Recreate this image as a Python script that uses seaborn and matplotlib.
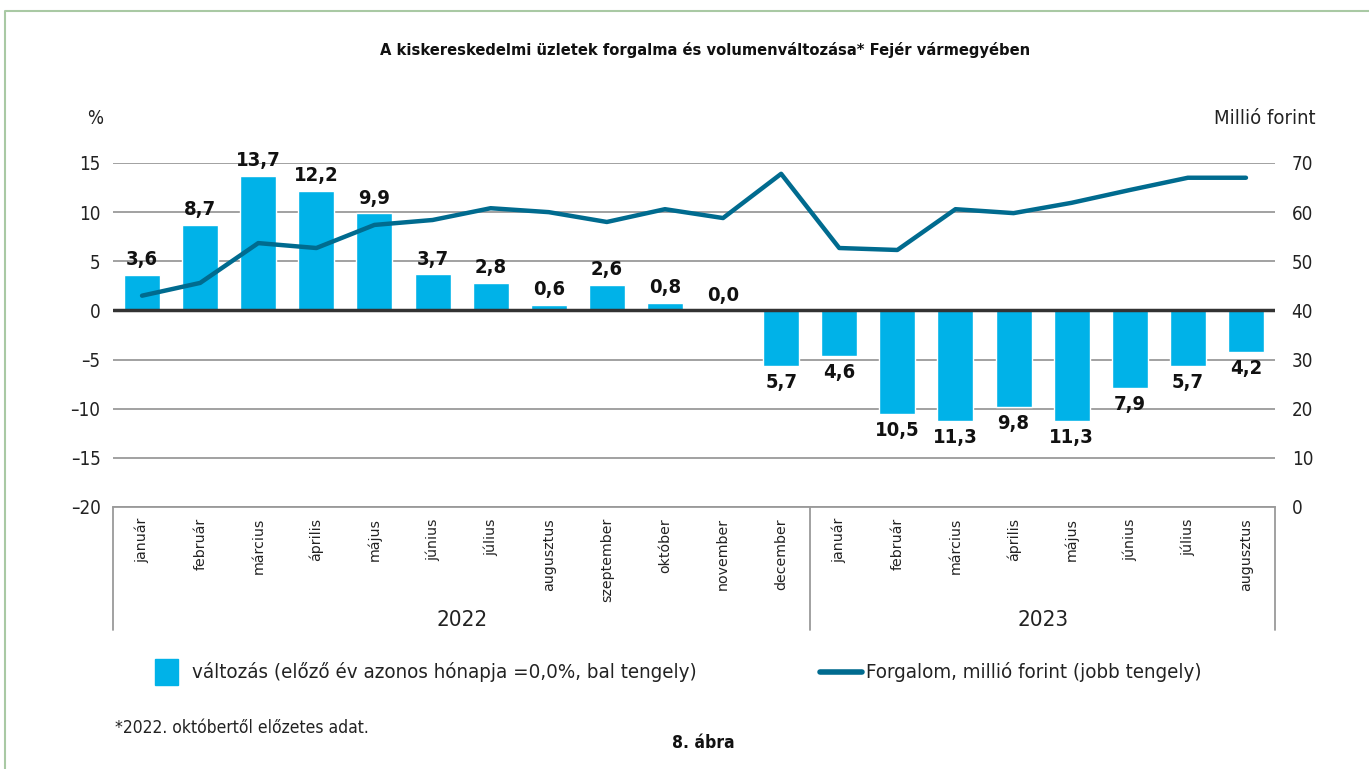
import seaborn as sns
import matplotlib.pyplot as plt
import matplotlib.transforms as mtransforms
from matplotlib.patches import Rectangle
from matplotlib.lines import Line2D
import pandas as pd

# adatok
honapok = ['január', 'február', 'március', 'április', 'május', 'június', 'július',
           'augusztus', 'szeptember', 'október', 'november', 'december',
           'január', 'február', 'március', 'április', 'május', 'június', 'július',
           'augusztus']
evek = ['2022', '2023']
valtozas = [3.6, 8.7, 13.7, 12.2, 9.9, 3.7, 2.8, 0.6, 2.6, 0.8, 0.0, -5.7,
            -4.6, -10.5, -11.3, -9.8, -11.3, -7.9, -5.7, -4.2]
forgalom = [43.0, 45.6, 53.7, 52.7, 57.4, 58.4, 60.8, 60.0, 58.0, 60.6, 58.8, 67.8,
            52.7, 52.3, 60.6, 59.8, 61.9, 64.5, 67.0, 67.0]

BAR = '#00b2e8'
LINE = '#006b8f'
GRID = '#9a9a9a'
W, H = 1369, 769
# keskeny betű
N = dict(family='DejaVu Sans', fontstretch='condensed')

sns.set_style('white')
plt.rcParams['font.family'] = ['DejaVu Sans']

df = pd.DataFrame({'pos': range(len(honapok)), 'valtozas': valtozas, 'forgalom': forgalom})

fig = plt.figure(figsize=(W / 100, H / 100), dpi=100)


def fx(x):
    return x / W


def fy(y):
    return 1 - y / H


ax = fig.add_axes([fx(113), fy(507), fx(1275) - fx(113), fy(163) - fy(507)])
sns.barplot(data=df, x='pos', y='valtozas', color=BAR, width=0.62, saturation=1, ax=ax)
ax.set_ylim(-20, 15)
ax.set_xlim(-0.5, len(honapok) - 0.5)
ax.set_yticks(range(-20, 16, 5))
ax.set_yticklabels(['–' + str(-t) if t < 0 else str(t) for t in range(-20, 16, 5)],
                   fontsize=13.5, color='#222222', **N)
ax.grid(axis='y', color=GRID, lw=1.3)
ax.set_axisbelow(True)
ax.axhline(0, color='#333333', lw=2.5, zorder=3)
for s in ['top', 'left', 'right']:
    ax.spines[s].set_visible(False)
ax.spines['bottom'].set_color(GRID)
ax.spines['bottom'].set_linewidth(1.3)
ax.tick_params(axis='both', length=0)
ax.tick_params(axis='y', pad=9)
ax.set_xticks(range(len(honapok)))
ax.set_xticklabels(honapok, rotation=90, fontsize=10.2, color='#222222')
ax.tick_params(axis='x', pad=8)
ax.set_xlabel('')
ax.set_ylabel('')

# értékcímkék
for i, v in enumerate(valtozas):
    txt = f'{abs(v):.1f}'.replace('.', ',')
    if v >= 0:
        ax.annotate(txt, (i, v), xytext=(0, 4), textcoords='offset points', ha='center',
                    va='bottom', fontsize=14.5, fontweight='bold', color='#111111',
                    annotation_clip=False, **N)
    else:
        ax.annotate(txt, (i, v), xytext=(0, -5), textcoords='offset points', ha='center',
                    va='top', fontsize=14.5, fontweight='bold', color='#111111',
                    annotation_clip=False, **N)

# jobb tengely
ax2 = ax.twinx()
sns.lineplot(data=df, x='pos', y='forgalom', color=LINE, lw=3.2, ax=ax2)
ax2.set_ylim(0, 70)
ax2.set_yticks(range(0, 71, 10))
ax2.set_yticklabels([str(t) for t in range(0, 71, 10)], fontsize=13.5, color='#222222', **N)
ax2.tick_params(axis='y', length=0, pad=12)
ax2.set_ylabel('')
ax2.set_xlabel('')
for s in ax2.spines.values():
    s.set_visible(False)
ax2.grid(False)

# kategória keret
tr = mtransforms.blended_transform_factory(ax.transData, ax.transAxes)
for xv in [-0.5, 11.5, len(honapok) - 0.5]:
    ax.add_line(Line2D([xv, xv], [0, -123 / 344], transform=tr, color=GRID, lw=1.3,
                       clip_on=False))
ax.text(5.5, -113 / 344, evek[0], transform=tr, ha='center', va='center', fontsize=16,
        color='#222222', **N)
ax.text(15.5, -113 / 344, evek[1], transform=tr, ha='center', va='center', fontsize=16,
        color='#222222', **N)

# feliratok
fig.text(fx(705), fy(50), 'A kiskereskedelmi üzletek forgalma és volumenváltozása* Fejér vármegyében',
         ha='center', va='center', fontsize=11.8, fontweight='bold', color='#111111', **N)
fig.text(fx(95), fy(118), '%', ha='center', va='center', fontsize=13.5, color='#222222', **N)
fig.text(fx(1316), fy(118), 'Millió forint', ha='right', va='center', fontsize=14.5,
         color='#222222', **N)

# jelmagyarázat
fig.patches.append(Rectangle((fx(155), fy(685)), fx(23), fy(659) - fy(685), transform=fig.transFigure,
                             color=BAR, figure=fig))
fig.text(fx(192), fy(672), 'változás (előző év azonos hónapja =0,0%, bal tengely)', ha='left',
         va='center', fontsize=14.7, color='#222222', **N)
fig.lines.append(Line2D([fx(820), fx(862)], [fy(672), fy(672)], transform=fig.transFigure,
                        color=LINE, lw=4, solid_capstyle='round', figure=fig))
fig.text(fx(866), fy(672), 'Forgalom, millió forint (jobb tengely)', ha='left', va='center',
         fontsize=14.7, color='#222222', **N)

fig.text(fx(115), fy(728), '*2022. októbertől előzetes adat.', ha='left', va='center', fontsize=12.5,
         color='#222222', **N)
fig.text(fx(703), fy(743), '8. ábra', ha='center', va='center', fontsize=12.5, fontweight='bold',
         color='#111111', **N)

# keret
fig.lines.append(Line2D([fx(5), fx(5), fx(1369)], [fy(769), fy(11), fy(11)], transform=fig.transFigure,
                        color='#a9c9a4', lw=1.5, figure=fig))

fig.savefig('out.png', dpi=100)
